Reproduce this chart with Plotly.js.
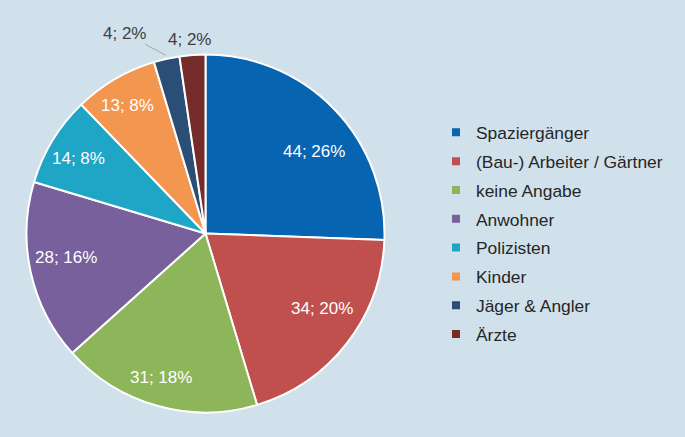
<!DOCTYPE html>
<html>
<head>
<meta charset="utf-8">
<script src="https://cdn.plot.ly/plotly-3.0.1.min.js"></script>
<style>html,body{margin:0;padding:0;background:#D0E1EC;}#chart{width:685px;height:437px;}</style>
</head>
<body>
<div id="chart"></div>
<script>
var categories = ["Spaziergänger", "(Bau-) Arbeiter / Gärtner", "keine Angabe", "Anwohner", "Polizisten", "Kinder", "Jäger & Angler", "Ärzte"];
var values = [44, 34, 31, 28, 14, 13, 4, 4];
var colors = ["#0764B0", "#C0504D", "#8DB65A", "#77609B", "#1FA5C6", "#F39650", "#2B4E76", "#772C2C"];

var FONT = "Liberation Sans, Arial, sans-serif";
var W = 685, H = 437;
var CX = 205.5, CY = 233.5, R = 179;   // pie centre / radius in pixels
// small pixel nudges of the data labels (label layout, like Excel's "best fit")
var labelNudge = [[5, 17], [3, -13], [-6, 6], [0, -7], [-5, 0], [-6, -4], [0, 0], [-2, 2]];

var traces = [{
  type: "pie",
  labels: categories,
  values: values,
  sort: false,
  direction: "clockwise",
  rotation: 0,
  marker: {colors: colors, line: {color: "#ffffff", width: 2}},
  textinfo: "none",
  domain: {x: [(CX - R) / W, (CX + R) / W], y: [(H - CY - R) / H, (H - CY + R) / H]},
  showlegend: false,
  hoverinfo: "label+value+percent"
}];

categories.forEach(function(c, i) {
  traces.push({
    type: "scatter",
    mode: "markers",
    x: [null], y: [null],
    name: c,
    legendgroup: "g" + i,
    marker: {symbol: "square", size: 8, color: colors[i]},
    showlegend: true,
    hoverinfo: "skip"
  });
});

// data labels "value; percent" placed at each slice's mid angle
var total = values.reduce(function(a, b) { return a + b; }, 0);
var annotations = [];
var cum = 0;
values.forEach(function(v, i) {
  var mid = (cum + v / 2) / total * 2 * Math.PI;
  cum += v;
  var txt = v + "; " + Math.round(v / total * 100) + "%";
  var small = v / total < 0.05;
  var rf = small ? 1.1 : 0.8;
  var px = CX + rf * R * Math.sin(mid) + labelNudge[i][0];
  var py = CY - rf * R * Math.cos(mid) + labelNudge[i][1];
  var ann = {
    xref: "paper", yref: "paper",
    x: px / W, y: 1 - py / H,
    text: txt,
    showarrow: false,
    font: {family: FONT, size: 17, color: small ? "#404040" : "#ffffff"},
    xanchor: "center", yanchor: "middle"
  };
  if (small && i === values.length - 2) {
    // leader-lined label shifted left to avoid its neighbour
    var ex = CX + 1.02 * R * Math.sin(mid), ey = CY - 1.02 * R * Math.cos(mid);
    ann.x = ex / W; ann.y = 1 - ey / H;
    ann.showarrow = true;
    ann.arrowhead = 0;
    ann.arrowwidth = 1;
    ann.arrowcolor = "#A6A6A6";
    ann.ax = -41; ann.ay = -22;
    ann.standoff = 0;
  }
  annotations.push(ann);
});

var layout = {
  width: W, height: H,
  margin: {l: 0, r: 0, t: 0, b: 0},
  paper_bgcolor: "#D0E1EC",
  plot_bgcolor: "rgba(0,0,0,0)",
  xaxis: {visible: false},
  yaxis: {visible: false},
  showlegend: true,
  legend: {
    x: 436 / W, xanchor: "left",
    y: 1 - 114.5 / H, yanchor: "top",
    bgcolor: "rgba(0,0,0,0)",
    font: {family: FONT, size: 17.4, color: "#262626"},
    tracegroupgap: 3.2,
    traceorder: "grouped"
  },
  annotations: annotations,
  font: {family: FONT}
};

Plotly.newPlot("chart", traces, layout, {displayModeBar: false, staticPlot: true});
</script>
</body>
</html>
